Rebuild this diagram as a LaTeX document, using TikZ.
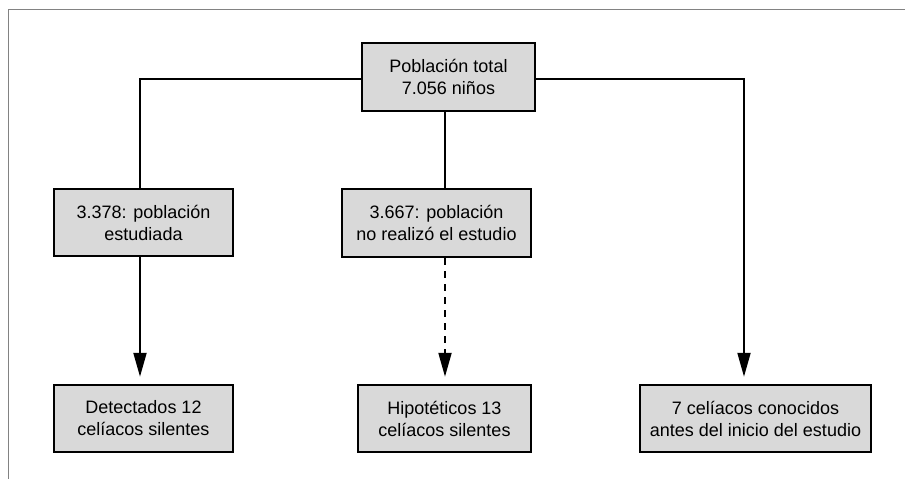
\documentclass[tikz,border=0pt]{standalone}
\usepackage{fontspec}
\setmainfont{Liberation Sans}
\usetikzlibrary{arrows.meta}
\definecolor{boxfill}{RGB}{217,217,217}
\definecolor{framec}{RGB}{130,130,130}
\tikzset{
  box/.style={draw=black, line width=2.5pt, fill=boxfill, inner sep=0pt,
    align=center, font=\fontsize{18}{22}\selectfont},
  conn/.style={line width=2pt, black},
  arr/.style={conn, -{Triangle[length=24pt,width=13pt]}, shorten >=7pt},
}
\begin{document}
\begin{tikzpicture}[x=1pt,y=-1pt]
\useasboundingbox (0,0) rectangle (905,479);
% frame
\draw[framec, line width=1.3pt] (8.5,479) -- (8.5,9.5) -- (905,9.5);
% helper coordinates
\coordinate (yh) at (0,79);
\coordinate (xl) at (140,0);
\coordinate (xm) at (445,0);
\coordinate (xr) at (744,0);
% nodes
\node[box, minimum width=173pt, minimum height=68pt] (top) at (448.5,77) {Población total\\7.056 niños};
\node[box, minimum width=179pt, minimum height=67pt] (l2) at (143.5,222.5) {3.378: población\\estudiada};
\node[box, minimum width=189pt, minimum height=68pt] (m2) at (436.5,223) {3.667: población\\no realizó el estudio};
\node[box, minimum width=179pt, minimum height=67pt] (l3) at (143.5,418.5) {Detectados 12\\celíacos silentes};
\node[box, minimum width=173pt, minimum height=67pt] (m3) at (444.5,418.5) {Hipotéticos 13\\celíacos silentes};
\node[box, minimum width=231pt, minimum height=67pt] (r3) at (755.5,418.5) {7 celíacos conocidos\\antes del inicio del estudio};
% connectors
\draw[conn] (top.west |- yh) -| (l2.north -| xl);
\draw[conn] (top.south -| xm) -- (m2.north -| xm);
\draw[arr] (top.east |- yh) -| (r3.north -| xr);
\draw[arr] (l2.south -| xl) -- (l3.north -| xl);
\draw[arr, dash pattern=on 7pt off 6pt] (m2.south -| xm) -- (m3.north -| xm);
\end{tikzpicture}
\end{document}
